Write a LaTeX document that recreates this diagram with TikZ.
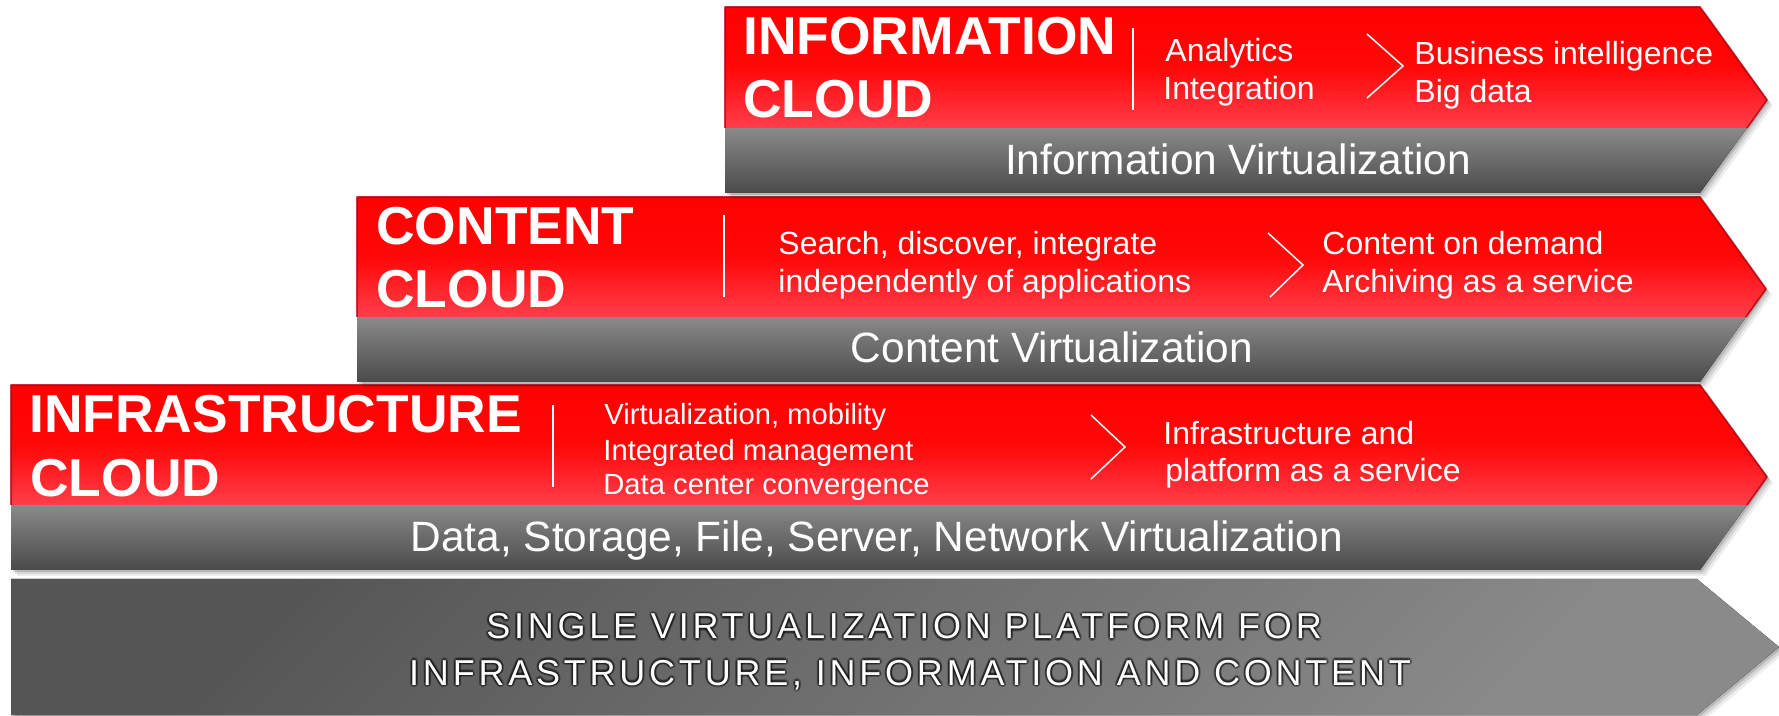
\documentclass[tikz,border=0pt]{standalone}
\usepackage{fontspec}
\setmainfont{Liberation Sans}
\newfontfamily\platfont[LetterSpace=10.5]{Liberation Sans}
\usetikzlibrary{calc}

\definecolor{redtop}{HTML}{FF0000}
\definecolor{redmid}{HTML}{FF0808}
\definecolor{redbot}{HTML}{FF3E4A}
\definecolor{rededge}{HTML}{B8000E}
\definecolor{bandtop}{HTML}{8A8A8A}
\definecolor{bandbot}{HTML}{4A4A4A}
\definecolor{basedark}{HTML}{555555}
\definecolor{baselight}{HTML}{8A8A8A}

\tikzset{
  redshade/.style={top color=redtop, bottom color=redbot, middle color=redmid},
  bandshade/.style={top color=bandtop, bottom color=bandbot},
  baseshade/.style={top color=basedark, bottom color=baselight, shading angle=45},
  edgeline/.style={draw=rededge, line width=0.9pt, line join=round, opacity=0.75},
  title/.style={font=\fontsize{26.7}{26.7}\selectfont\bfseries, text=white, anchor=base west, inner sep=0},
  body/.style={font=\fontsize{16}{16}\selectfont, text=white, anchor=base west, inner sep=0},
  bodysmall/.style={font=\fontsize{14.6}{14.6}\selectfont, text=white, anchor=base west, inner sep=0},
  band/.style={font=\fontsize{21.2}{21.2}\selectfont, text=white, anchor=base, inner sep=0},
  plat/.style={font=\fontsize{18}{18}\selectfont\platfont, anchor=base, inner sep=0},
  divider/.style={draw=white, line width=1pt},
  chev/.style={draw=white, line width=0.75pt, line join=miter},
}

% one tier: #1 left, #2 top, #3 bottom of red part, #4 bottom,
% #5 x where the point starts, #6/#7 tip, #8 x of right edge at #3
\newcommand\tierbox[8]{%
  \foreach \s/\o in {6/0.07,4/0.10,2/0.14}{
    \fill[black, opacity=\o, shift={(\s,\s)}]
      (#1,#2) -- (#5,#2) -- (#6,#7) -- (#5,#4) -- (#1,#4) -- cycle;}
  \fill[bandshade] (#1,#3) -- (#8,#3) -- (#5,#4) -- (#1,#4) -- cycle;
  \fill[redshade] (#1,#2) -- (#5,#2) -- (#6,#7) -- (#8,#3) -- (#1,#3) -- cycle;
  \draw[edgeline] (#1,#3) -- (#1,#2) -- (#5,#2) -- (#6,#7) -- (#8,#3);
}

% white caption text with a soft dark halo around the letters
\newcommand\halocopy[3]{\rlap{\kern#1\raisebox{#2}{\textcolor{black}{#3}}}}
\newcommand\haloed[1]{%
  \pgfsetfillopacity{0.28}%
  \halocopy{1.1pt}{0pt}{#1}\halocopy{-1.1pt}{0pt}{#1}%
  \halocopy{0pt}{1.1pt}{#1}\halocopy{0pt}{-1.1pt}{#1}%
  \halocopy{0.78pt}{0.78pt}{#1}\halocopy{-0.78pt}{0.78pt}{#1}%
  \halocopy{0.78pt}{-0.78pt}{#1}\halocopy{-0.78pt}{-0.78pt}{#1}%
  \pgfsetfillopacity{1}%
  \textcolor{white}{#1}}

\begin{document}
\begin{tikzpicture}[x=0.5pt, y=-0.5pt]
\useasboundingbox (0,0) rectangle (1779,716);

% platform at the base
\foreach \s/\o in {6/0.07,4/0.10,2/0.14}{
  \fill[black, opacity=\o, shift={(\s,\s)}]
    (11,579) -- (1697,579) -- (1779,647) -- (1697,715) -- (11,715) -- cycle;}
\fill[baseshade] (11,579) -- (1697,579) -- (1779,647) -- (1697,715) -- (11,715) -- cycle;

% the three cloud tiers
\tierbox{11}{385}{505}{570}{1700}{1767}{477}{1747}
\tierbox{357}{197}{317}{382}{1700}{1766}{289}{1746}
\tierbox{725}{7}{128}{193}{1700}{1767}{100}{1747}

% information cloud
\node[title] (infoA) at (743,55) {INFORMATION};
\node[title] (infoB) at (743,118) {CLOUD};
\draw[divider] (1133,28) -- (1133,110);
\node[body] (infoC) at (1165,62) {Analytics};
\node[body] (infoD) at (1163,100) {Integration};
\draw[chev] (1367,34) -- (1403,66) -- (1367,98);
\node[body] (infoE) at (1414,65) {Business intelligence};
\node[body] (infoF) at (1414,103) {Big data};
\node[band] (infoV) at (1238,175) {Information Virtualization};

% content cloud
\node[title] (contA) at (376,245) {CONTENT};
\node[title] (contB) at (376,308) {CLOUD};
\draw[divider] (724,215) -- (724,297);
\node[body] (contC) at (778,255) {Search, discover, integrate};
\node[body] (contD) at (778,293) {independently of applications};
\draw[chev] (1268,233) -- (1303,265) -- (1270,297);
\node[body] (contE) at (1322,255) {Content on demand};
\node[body] (contF) at (1322,293) {Archiving as a service};
\node[band] (contV) at (1052,363) {Content Virtualization};

% infrastructure cloud
\node[title] (infrA) at (29,433) {INFRASTRUCTURE};
\node[title] (infrB) at (30,497) {CLOUD};
\draw[divider] (553,405) -- (553,487);
\node[bodysmall] (infrC) at (604,425) {Virtualization, mobility};
\node[bodysmall] (infrD) at (603,461) {Integrated management};
\node[bodysmall] (infrE) at (603,495) {Data center convergence};
\draw[chev] (1091,415) -- (1125,447) -- (1091,479);
\node[body] (infrF) at (1163,445) {Infrastructure and};
\node[body] (infrG) at (1165,482) {platform as a service};
\node[band] (infrV) at (877,552) {Data, Storage, File, Server, Network Virtualization};

% platform caption
\node[plat] (platA) at (904,639) {\haloed{SINGLE VIRTUALIZATION PLATFORM FOR}};
\node[plat] (platB) at (910,685) {\haloed{INFRASTRUCTURE, INFORMATION AND CONTENT}};
\end{tikzpicture}
\end{document}
